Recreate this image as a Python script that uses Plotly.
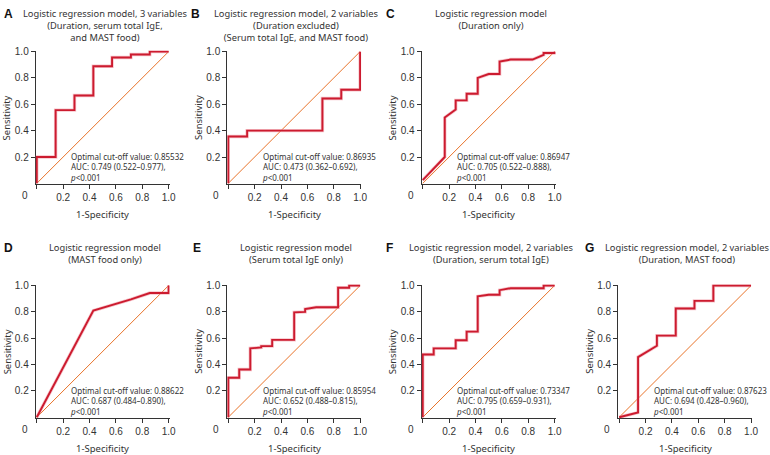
import plotly.graph_objects as go

# ---------------- data ----------------
panel_letters = ["A", "B", "C", "D", "E", "F", "G"]
panel_titles = [
    "Logistic regression model, 3 variables<br>(Duration, serum total IgE,<br>and MAST food)",
    "Logistic regression model, 2 variables<br>(Duration excluded)<br>(Serum total IgE, and MAST food)",
    "Logistic regression model<br>(Duration only)",
    "Logistic regression model<br>(MAST food only)",
    "Logistic regression model<br>(Serum total IgE only)",
    "Logistic regression model, 2 variables<br>(Duration, serum total IgE)",
    "Logistic regression model, 2 variables<br>(Duration, MAST food)",
]
cutoff_values = ["0.85532", "0.86935", "0.86947", "0.88622", "0.85954", "0.73347", "0.87623"]
auc_values = ["0.749", "0.473", "0.705", "0.687", "0.652", "0.795", "0.694"]
auc_ci = ["0.522–0.977", "0.362–0.692", "0.522–0.888", "0.484–0.890",
          "0.488–0.815", "0.659–0.931", "0.428–0.960"]
p_values = ["&lt;0.001"] * 7

fpr_A = [0, 0, 0.143, 0.143, 0.286, 0.286, 0.429, 0.429, 0.571, 0.571, 0.714, 0.714, 0.857, 0.857, 1.0]
tpr_A = [0, 0.2, 0.2, 0.556, 0.556, 0.667, 0.667, 0.889, 0.889, 0.956, 0.956, 0.978, 0.978, 1.0, 1.0]

fpr_B = [0, 0, 0.143, 0.143, 0.714, 0.714, 0.857, 0.857, 1.0, 1.0]
tpr_B = [0, 0.356, 0.356, 0.4, 0.4, 0.644, 0.644, 0.711, 0.711, 1.0]

fpr_C = [0, 0.167, 0.167, 0.25, 0.25, 0.333, 0.333, 0.417, 0.417, 0.5, 0.583, 0.583, 0.667, 0.833, 0.917, 0.917, 1.0, 1.0]
tpr_C = [0.025, 0.2, 0.5, 0.56, 0.63, 0.63, 0.68, 0.68, 0.8, 0.83, 0.83, 0.925, 0.94, 0.94, 0.975, 0.99, 0.99, 1.0]

fpr_D = [0, 0.429, 0.714, 0.857, 1.0, 1.0]
tpr_D = [0, 0.81, 0.895, 0.943, 0.943, 1.0]

fpr_E = [0, 0, 0.083, 0.083, 0.167, 0.167, 0.25, 0.25, 0.333, 0.333, 0.5, 0.5, 0.583, 0.583, 0.667, 0.833, 0.833, 0.917, 0.917, 1.0]
tpr_E = [0, 0.3, 0.3, 0.363, 0.363, 0.523, 0.53, 0.54, 0.54, 0.588, 0.588, 0.797, 0.8, 0.822, 0.835, 0.835, 0.983, 0.983, 1.0, 1.0]

fpr_F = [0, 0, 0.083, 0.083, 0.25, 0.25, 0.333, 0.333, 0.417, 0.417, 0.5, 0.583, 0.583, 0.667, 0.917, 0.917, 1.0]
tpr_F = [0, 0.477, 0.477, 0.523, 0.523, 0.585, 0.585, 0.65, 0.65, 0.918, 0.93, 0.93, 0.965, 0.98, 0.98, 1.0, 1.0]

fpr_G = [0, 0.143, 0.143, 0.286, 0.286, 0.429, 0.429, 0.571, 0.571, 0.714, 0.714, 1.0]
tpr_G = [0, 0.036, 0.457, 0.543, 0.62, 0.62, 0.826, 0.826, 0.884, 0.884, 1.0, 1.0]

curves = [(fpr_A, tpr_A), (fpr_B, tpr_B), (fpr_C, tpr_C), (fpr_D, tpr_D),
          (fpr_E, tpr_E), (fpr_F, tpr_F), (fpr_G, tpr_G)]

x_tickvals = [0, 0.2, 0.4, 0.6, 0.8, 1.0]
x_ticktext = ["", "0.2", "0.4", "0.6", "0.8", "1.0"]
y_tickvals = [0.2, 0.4, 0.6, 0.8, 1.0]
y_ticktext = ["0.2", "0.4", "0.6", "0.8", "1.0"]

# ---------------- layout (pixel geometry) ----------------
W, H = 770, 455
PW, PHh = 135, 135
boxes = [(36, 47), (229, 47), (425, 47), (36, 283), (229, 283), (425, 283), (623, 283)]
letter_x = [2, 190, 387, 2, 192, 387, 588]
RED = "#CC1B2F"
SHADOW = "rgba(240,150,160,0.55)"
DIAG = "#E8732A"
TXT = "#333333"
TFONT = "Noto Sans"
NFONT = "Liberation Sans"

def px_x(px):
    return px / W

def px_y(py):
    return 1 - py / H

fig = go.Figure()
annotations = []
layout = {}

for i, ((fx, ty), (left, top)) in enumerate(zip(curves, boxes)):
    n = i + 1
    xa = "x" if n == 1 else f"x{n}"
    ya = "y" if n == 1 else f"y{n}"
    fig.add_trace(go.Scatter(x=[0, 1], y=[0, 1], mode="lines", xaxis=xa, yaxis=ya,
                             line=dict(color=DIAG, width=1),
                             hoverinfo="skip", showlegend=False))
    fig.add_trace(go.Scatter(x=fx, y=ty, mode="lines", xaxis=xa, yaxis=ya,
                             line=dict(color=SHADOW, width=3.4),
                             hoverinfo="skip", showlegend=False))
    fig.add_trace(go.Scatter(x=fx, y=ty, mode="lines", xaxis=xa, yaxis=ya,
                             line=dict(color=RED, width=1.9),
                             showlegend=False))
    common = dict(showgrid=False, zeroline=False, showline=True, linecolor=TXT, linewidth=1,
                  ticks="outside", ticklen=4, tickcolor=TXT, tickwidth=1,
                  range=[-0.008, 1.008], fixedrange=True, layer="below traces",
                  tickfont=dict(family=NFONT, size=10, color=TXT))
    layout["xaxis" if n == 1 else f"xaxis{n}"] = dict(
        common, domain=[px_x(left), px_x(left + PW)], anchor=ya,
        tickvals=x_tickvals, ticktext=x_ticktext)
    layout["yaxis" if n == 1 else f"yaxis{n}"] = dict(
        common, domain=[px_y(top + PHh), px_y(top)], anchor=xa,
        tickvals=y_tickvals, ticktext=y_ticktext)

    cx = left + PW / 2 + 2
    ttop = 1 if top < 100 else 237
    annotations.append(dict(text=panel_titles[i], xref="paper", yref="paper",
                            x=px_x(cx), y=px_y(ttop), xanchor="center", yanchor="top",
                            showarrow=False, align="center",
                            font=dict(family=TFONT, size=9.3, color=TXT)))
    annotations.append(dict(text=f"<b>{panel_letters[i]}</b>", xref="paper", yref="paper",
                            x=px_x(letter_x[i]), y=px_y(ttop), xanchor="left", yanchor="top",
                            showarrow=False, font=dict(family="Liberation Sans", size=12, color="#111111")))
    stats = (f"Optimal cut-off value: {cutoff_values[i]}<br>"
             f"AUC: {auc_values[i]} ({auc_ci[i]}),<br>"
             f"<i>p</i>{p_values[i]}")
    annotations.append(dict(text=stats, xref=xa, yref=ya, x=0.24, y=0.125,
                            xanchor="left", yanchor="middle", align="left", showarrow=False,
                            font=dict(family=TFONT, size=8, color=TXT)))
    annotations.append(dict(text="0", xref="paper", yref="paper",
                            x=px_x(left - 11), y=px_y(top + PHh + 11),
                            xanchor="center", yanchor="middle", showarrow=False,
                            font=dict(family=NFONT, size=10, color=TXT)))
    annotations.append(dict(text="1-Specificity", xref="paper", yref="paper",
                            x=px_x(left + PW / 2), y=px_y(top + PHh + 30),
                            xanchor="center", yanchor="middle", showarrow=False,
                            font=dict(family=TFONT, size=9.5, color=TXT)))
    annotations.append(dict(text="Sensitivity", xref="paper", yref="paper",
                            x=px_x(left - 29), y=px_y(top + PHh / 2),
                            xanchor="center", yanchor="middle", showarrow=False, textangle=-90,
                            font=dict(family=TFONT, size=9.5, color=TXT)))

fig.update_layout(width=W, height=H, margin=dict(l=0, r=0, t=0, b=0),
                  paper_bgcolor="white", plot_bgcolor="white",
                  annotations=annotations, **layout)

fig.write_html("out.html", config={"displayModeBar": False},
               post_script="document.body.style.margin='0';document.body.style.padding='0';")
